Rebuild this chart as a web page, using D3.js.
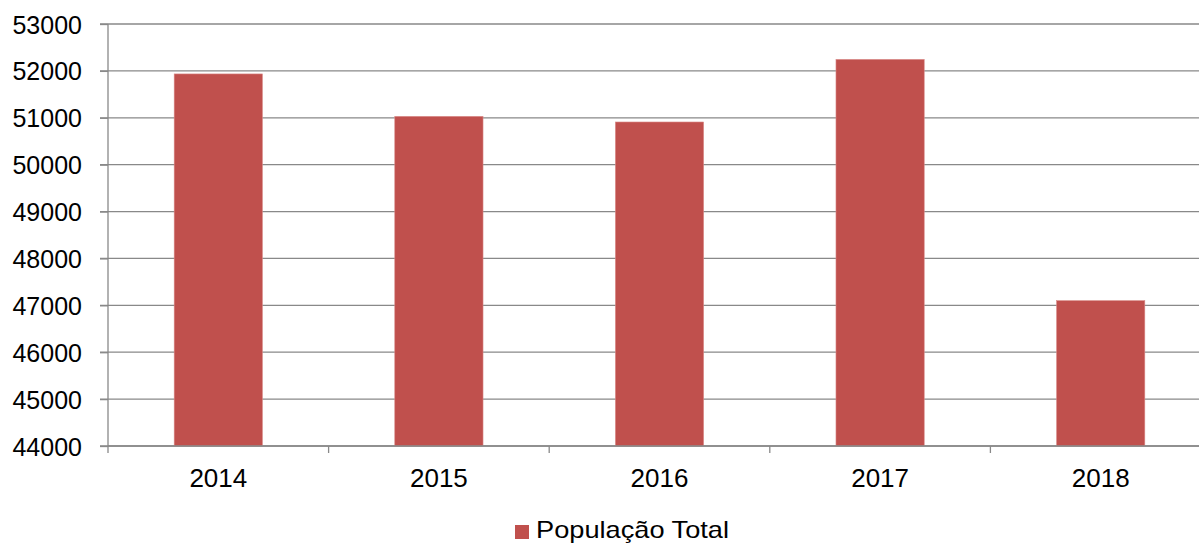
<!DOCTYPE html>
<html>
<head>
<meta charset="utf-8">
<script src="https://cdn.jsdelivr.net/npm/d3@7"></script>
<style>
  body { margin: 0; background: #fff; }
  svg text { font-family: "Liberation Sans", Arial, sans-serif; fill: #000; }
</style>
</head>
<body>
<div id="chart"></div>
<script>
// chart values
var years      = ["2014", "2015", "2016", "2017", "2018"];
var population = [51935, 51030, 50910, 52245, 47100];
var yTicks     = [44000, 45000, 46000, 47000, 48000, 49000, 50000, 51000, 52000, 53000];
var seriesName = "População Total";

var W = 1199, H = 545;
var margin = {top: 24, right: -12, bottom: 99, left: 108};

var svg = d3.select("#chart").append("svg")
    .attr("width", W)
    .attr("height", H);

var xScale = d3.scaleBand()
    .domain(years)
    .range([margin.left, W - margin.right])
    .paddingInner(0.6)
    .paddingOuter(0.3);

var yScale = d3.scaleLinear()
    .domain([44000, 53000])
    .range([H - margin.bottom, margin.top]);

// gridlines
svg.append("g")
  .selectAll("line")
  .data(yTicks)
  .enter()
  .append("line")
    .attr("x1", margin.left - 8)
    .attr("x2", W)
    .attr("y1", function(d) { return yScale(d); })
    .attr("y2", function(d) { return yScale(d); })
    .style("stroke", "#898989")
    .style("stroke-width", 1.3);

// bars
svg.append("g")
  .selectAll("rect")
  .data(population)
  .enter()
  .append("rect")
    .attr("x", function(d, i) { return xScale(years[i]); })
    .attr("y", function(d) { return yScale(d); })
    .attr("width", xScale.bandwidth())
    .attr("height", function(d) { return yScale(44000) - yScale(d); })
    .attr("fill", "#C0504D")
    .style("stroke", "#D98A88")
    .style("stroke-width", 0.6);

// y axis
var yAxis = d3.axisLeft(yScale)
    .tickValues(yTicks)
    .tickSize(8)
    .tickPadding(18)
    .tickFormat(d3.format("d"));

var yAxisEl = svg.append("g")
    .attr("transform", "translate(" + margin.left + ",0)")
    .call(yAxis);
yAxisEl.select(".domain").style("stroke", "#898989").style("stroke-width", 1.3)
    .attr("d", "M0," + margin.top + "V" + (yScale(44000) + 7));
yAxisEl.selectAll(".tick line").style("stroke", "#898989").style("stroke-width", 1.3);
yAxisEl.selectAll(".tick text").style("font-size", "25px").attr("dy", "0.36em");

// x axis, ticks at category boundaries
var xAxisEl = svg.append("g")
    .attr("transform", "translate(0," + yScale(44000) + ")");
xAxisEl.append("line")
    .attr("x1", margin.left).attr("x2", W)
    .style("stroke", "#898989").style("stroke-width", 1.3);
xAxisEl.selectAll(".bnd")
  .data(years.slice(1))
  .enter()
  .append("line")
    .attr("class", "bnd")
    .attr("x1", function(d) { return xScale(d) - xScale.step() * 0.3; })
    .attr("x2", function(d) { return xScale(d) - xScale.step() * 0.3; })
    .attr("y1", 0).attr("y2", 7)
    .style("stroke", "#898989").style("stroke-width", 1.3);
xAxisEl.selectAll("text")
  .data(years)
  .enter()
  .append("text")
    .attr("x", function(d) { return xScale(d) + xScale.bandwidth() / 2; })
    .attr("y", 41)
    .attr("text-anchor", "middle")
    .style("font-size", "26px")
    .text(function(d) { return d; });

// legend
var legend = svg.append("g").attr("transform", "translate(515,538)");
legend.append("rect")
    .attr("x", 0).attr("y", -13)
    .attr("width", 14).attr("height", 14)
    .attr("fill", "#C0504D");
legend.append("text")
    .attr("x", 21).attr("y", 0)
    .attr("textLength", 193)
    .attr("lengthAdjust", "spacingAndGlyphs")
    .style("font-size", "24px")
    .text(seriesName);
</script>
</body>
</html>
